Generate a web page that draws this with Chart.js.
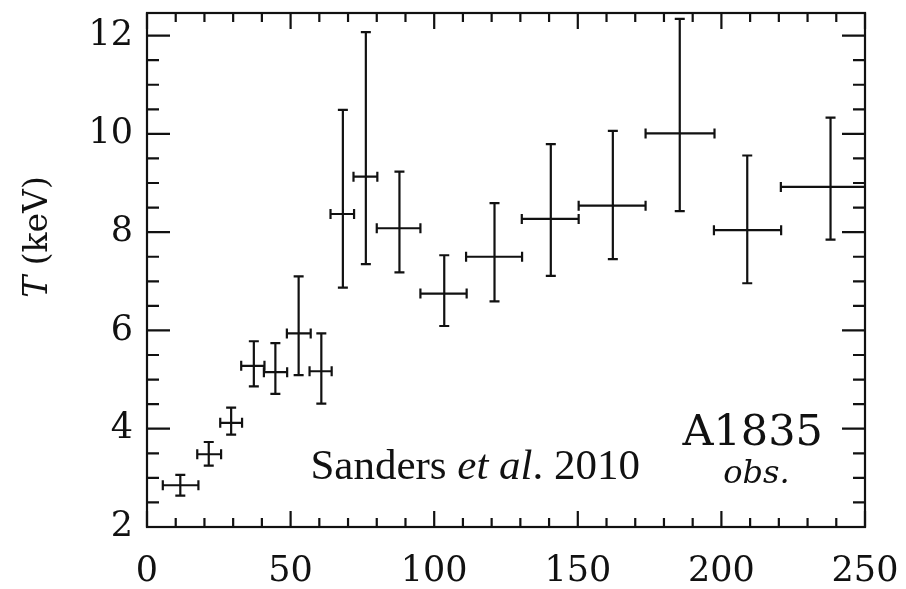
<!DOCTYPE html>
<html>
<head>
<meta charset="utf-8">
<script src="https://cdn.jsdelivr.net/npm/chart.js@4.4.0/dist/chart.umd.min.js"></script>
<style>
  body { margin: 0; background: #fff; }
  #wrap { width: 906px; height: 589px; }
</style>
</head>
<body>
<div id="wrap"><canvas id="myChart"></canvas></div>
<script>
// radius bins (kpc) and temperature (keV) with error ranges
var radius = [11.6, 21.5, 29.3, 37.2, 44.7, 52.8, 60.7, 68.2, 76.2, 87.9, 103.5, 121.0, 140.6, 162.2, 185.5, 209.0, 238.0];
var radiusLo = [5.5, 17.5, 25.5, 32.8, 40.7, 48.7, 56.6, 63.9, 71.9, 80.0, 95.2, 111.1, 130.5, 150.3, 173.6, 197.4, 220.7];
var radiusHi = [17.9, 25.8, 33.1, 40.9, 48.8, 57.0, 64.3, 72.1, 80.2, 95.2, 111.3, 130.6, 150.3, 173.6, 197.6, 220.8, 255.3];
var temp = [2.85, 3.48, 4.12, 5.28, 5.15, 5.94, 5.17, 8.37, 9.13, 8.08, 6.75, 7.50, 8.27, 8.54, 10.01, 8.04, 8.92];
var tempLo = [2.64, 3.25, 3.88, 4.86, 4.71, 5.09, 4.51, 6.87, 7.35, 7.18, 6.09, 6.59, 7.11, 7.45, 8.43, 6.96, 7.85];
var tempHi = [3.06, 3.73, 4.43, 5.78, 5.74, 7.10, 5.94, 10.49, 12.07, 9.23, 7.53, 8.59, 9.79, 10.06, 12.34, 9.56, 10.33];

var xTicks = [0, 50, 100, 150, 200, 250];
var yTicks = [2, 4, 6, 8, 10, 12];
var xMinorStep = 10;
var yMinorStep = 0.5;

var ink = '#111';
var tickFont = { family: 'DejaVu Serif', size: 35 };

var points = radius.map(function (r, i) { return { x: r, y: temp[i] }; });

// error bars, frame, inside ticks and text labels
var drawPlot = {
    id: 'drawPlot',
    afterDatasetsDraw: function (chart) {
        var c = chart.ctx, a = chart.chartArea;
        var xs = chart.scales.x, ys = chart.scales.y;
        var cap = 5;
        c.save();
        c.beginPath();
        c.rect(a.left, a.top, a.right - a.left, a.bottom - a.top);
        c.clip();
        c.strokeStyle = ink;
        c.lineWidth = 2.2;
        for (var i = 0; i < radius.length; i++) {
            var px = xs.getPixelForValue(radius[i]);
            var py = ys.getPixelForValue(temp[i]);
            var x0 = xs.getPixelForValue(radiusLo[i]);
            var x1 = xs.getPixelForValue(radiusHi[i]);
            var y0 = ys.getPixelForValue(tempLo[i]);
            var y1 = ys.getPixelForValue(tempHi[i]);
            c.beginPath();
            c.moveTo(x0, py); c.lineTo(x1, py);
            c.moveTo(x0, py - cap); c.lineTo(x0, py + cap);
            c.moveTo(x1, py - cap); c.lineTo(x1, py + cap);
            c.moveTo(px, y0); c.lineTo(px, y1);
            c.moveTo(px - cap, y0); c.lineTo(px + cap, y0);
            c.moveTo(px - cap, y1); c.lineTo(px + cap, y1);
            c.stroke();
        }
        c.restore();
    },
    afterDraw: function (chart) {
        var c = chart.ctx, a = chart.chartArea;
        var xs = chart.scales.x, ys = chart.scales.y;
        c.save();
        c.strokeStyle = ink;
        c.lineWidth = 2.2;
        c.strokeRect(a.left, a.top, a.right - a.left, a.bottom - a.top);
        c.beginPath();
        var v, p, len;
        for (v = xs.min; v <= xs.max + 1e-6; v += xMinorStep) {
            p = xs.getPixelForValue(v);
            len = xTicks.indexOf(Math.round(v)) >= 0 ? 16 : 9;
            c.moveTo(p, a.bottom); c.lineTo(p, a.bottom - len);
            c.moveTo(p, a.top); c.lineTo(p, a.top + len);
        }
        for (v = ys.min; v <= ys.max + 1e-6; v += yMinorStep) {
            p = ys.getPixelForValue(v);
            len = yTicks.indexOf(v) >= 0 ? 23 : 12;
            c.moveTo(a.left, p); c.lineTo(a.left + len, p);
            c.moveTo(a.right, p); c.lineTo(a.right - len, p);
        }
        c.stroke();

        c.fillStyle = ink;
        // y axis title
        c.save();
        c.translate(38, 237);
        c.rotate(-Math.PI / 2);
        c.textBaseline = 'middle';
        c.font = 'italic 33px "DejaVu Serif"';
        var t1 = 'T', t2 = ' (keV)';
        var w1 = c.measureText(t1).width;
        c.font = '33px "DejaVu Serif"';
        var w2 = c.measureText(t2).width;
        var sx = -(w1 + w2) / 2;
        c.textAlign = 'left';
        c.font = 'italic 33px "DejaVu Serif"';
        c.fillText(t1, sx, 0);
        c.font = '33px "DejaVu Serif"';
        c.fillText(t2, sx + w1, 0);
        c.restore();

        // citation
        c.textBaseline = 'alphabetic';
        c.textAlign = 'left';
        var parts = [['Sanders ', ''], ['et al', 'italic '], ['. 2010', '']];
        var tx = xs.getPixelForValue(56.9), ty = ys.getPixelForValue(2.97);
        parts.forEach(function (pt) {
            c.font = pt[1] + '43px "Liberation Serif"';
            c.fillText(pt[0], tx, ty);
            tx += c.measureText(pt[0]).width;
        });

        // cluster label
        c.textAlign = 'center';
        c.font = '43px "DejaVu Serif"';
        c.fillText('A1835', xs.getPixelForValue(210.9), ys.getPixelForValue(3.66));
        c.font = 'italic 32px "DejaVu Serif"';
        c.fillText('obs.', xs.getPixelForValue(212.2), ys.getPixelForValue(2.89));
        c.restore();
    }
};

var ctx = document.getElementById('myChart');
var myChart = new Chart(ctx, {
    type: 'scatter',
    data: {
        datasets: [{
            label: 'A1835',
            data: points,
            pointRadius: 0,
            showLine: false
        }]
    },
    options: {
        responsive: true,
        maintainAspectRatio: false,
        animation: false,
        layout: { padding: { left: 0, right: 41, top: 13, bottom: 0 } },
        plugins: { legend: { display: false }, tooltip: { enabled: false } },
        scales: {
            x: {
                type: 'linear',
                min: 0,
                max: 250,
                grid: { display: false, drawTicks: false },
                border: { display: false },
                ticks: { stepSize: 50, padding: 24, color: ink, font: tickFont, maxRotation: 0 },
                afterFit: function (s) { s.height = 62; s.paddingLeft = 0; s.paddingRight = 0; }
            },
            y: {
                type: 'linear',
                min: 2,
                max: 12.46,
                grid: { display: false, drawTicks: false },
                border: { display: false },
                ticks: { stepSize: 2, includeBounds: false, padding: 14, color: ink, font: tickFont },
                afterFit: function (s) { s.width = 147; s.paddingTop = 0; s.paddingBottom = 0; }
            }
        }
    },
    plugins: [drawPlot]
});
</script>
</body>
</html>
